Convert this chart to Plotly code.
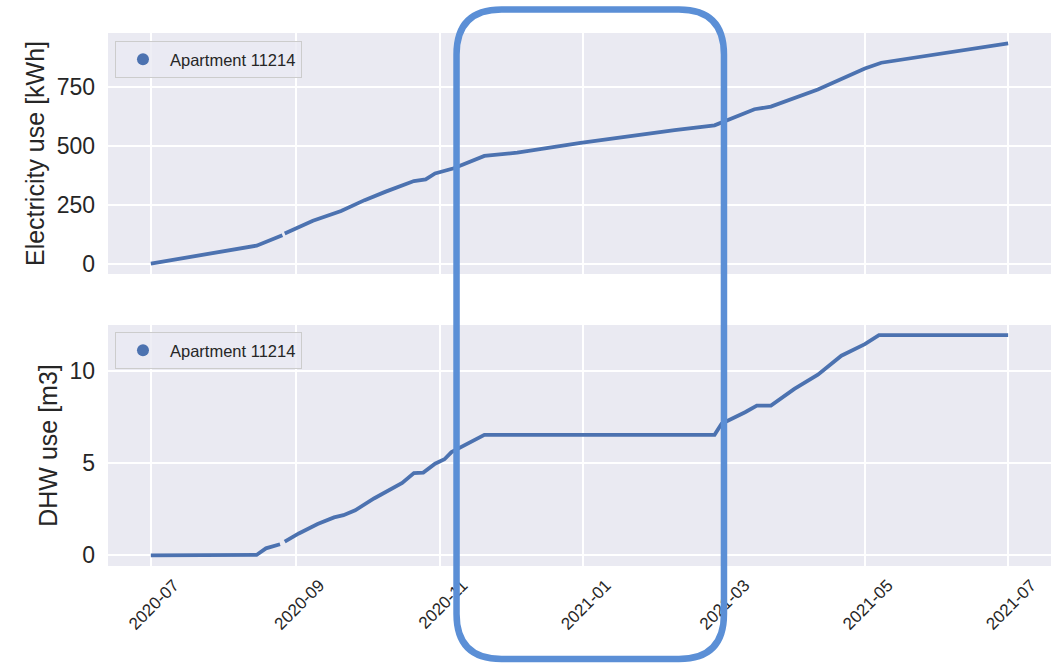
import plotly.graph_objects as go
from plotly.subplots import make_subplots

# Month ticks on the shared time axis
month_ticks = ["2020-07-01", "2020-09-01", "2020-11-01", "2021-01-01",
               "2021-03-01", "2021-05-01", "2021-07-01"]
month_labels = ["2020-07", "2020-09", "2020-11", "2021-01",
                "2021-03", "2021-05", "2021-07"]

series_name = "Apartment 11214"

# Cumulative electricity use (None marks the short data gap)
elec_dates = ["2020-07-01", "2020-08-15", "2020-08-26", "2020-08-26 12:00",
              "2020-08-27", "2020-08-30", "2020-09-08", "2020-09-20",
              "2020-09-30", "2020-10-09", "2020-10-21", "2020-10-26",
              "2020-10-30", "2020-11-07", "2020-11-20", "2020-12-04",
              "2020-12-31", "2021-02-09", "2021-02-26", "2021-03-15",
              "2021-03-22", "2021-04-11", "2021-05-01", "2021-05-08",
              "2021-07-01"]
elec_kwh = [3, 79, 123, None,
            131, 145, 185, 226,
            272, 308, 353, 360,
            385, 407, 459, 473,
            515, 569, 589, 657,
            668, 741, 830, 854,
            936]

# Cumulative domestic hot water use
dhw_dates = ["2020-07-01", "2020-08-15", "2020-08-19", "2020-08-25",
             "2020-08-26 12:00", "2020-08-27", "2020-09-02", "2020-09-10",
             "2020-09-17", "2020-09-21", "2020-09-26", "2020-10-04",
             "2020-10-16", "2020-10-21", "2020-10-25", "2020-10-30",
             "2020-11-03", "2020-11-06", "2020-11-12", "2020-11-20",
             "2021-02-26", "2021-03-01", "2021-03-11", "2021-03-16",
             "2021-03-22", "2021-04-01", "2021-04-11", "2021-04-21",
             "2021-05-01", "2021-05-07", "2021-07-01"]
dhw_m3 = [0.0, 0.02, 0.38, 0.60,
          None, 0.74, 1.19, 1.70,
          2.06, 2.18, 2.45, 3.09,
          3.93, 4.47, 4.50, 4.98,
          5.22, 5.61, 6.03, 6.55,
          6.55, 7.15, 7.78, 8.14,
          8.14, 9.05, 9.82, 10.85,
          11.48, 11.97, 11.97]

LINE = "#4C72B0"
BG = "#EAEAF2"
TXT = "#262626"
FONT = "Liberation Sans, Arial, sans-serif"

fig = make_subplots(rows=2, cols=1, shared_xaxes=True,
                    vertical_spacing=51 / 533)

fig.add_trace(go.Scatter(x=elec_dates, y=elec_kwh, mode="lines",
                         line=dict(color=LINE, width=3.8),
                         showlegend=False, connectgaps=False),
              row=1, col=1)
fig.add_trace(go.Scatter(x=dhw_dates, y=dhw_m3, mode="lines",
                         line=dict(color=LINE, width=3.8),
                         showlegend=False, connectgaps=False),
              row=2, col=1)

# Legend entries drawn as dots, one legend per panel
fig.add_trace(go.Scatter(x=[None], y=[None], mode="markers", name=series_name,
                         marker=dict(color=LINE, size=9), legend="legend"),
              row=1, col=1)
fig.add_trace(go.Scatter(x=[None], y=[None], mode="markers", name=series_name,
                         marker=dict(color=LINE, size=9), legend="legend2"),
              row=2, col=1)

legend_style = dict(
    bgcolor="rgba(234,234,242,0.8)", bordercolor="#cccccc", borderwidth=1,
    font=dict(family=FONT, size=16.5, color=TXT),
    xanchor="left", yanchor="top", itemsizing="constant", itemwidth=44,
)

x_common = dict(
    range=["2020-06-12 18:00", "2021-07-19 06:00"],
    tickvals=month_ticks, ticktext=month_labels,
    showgrid=True, gridcolor="white", gridwidth=1.5,
    zeroline=False, showline=False, ticks="",
    tickfont=dict(family=FONT, size=17, color=TXT),
)
fig.update_xaxes(**x_common)
fig.update_xaxes(showticklabels=False, row=1, col=1)
fig.update_xaxes(tickangle=-45, ticklabelshift=23, ticklabelstandoff=5,
                 row=2, col=1)

y_common = dict(
    showgrid=True, gridcolor="white", gridwidth=1.5,
    zeroline=False, showline=False, ticks="",
    tickfont=dict(family=FONT, size=23, color=TXT),
    ticklabelstandoff=12,
)
fig.update_yaxes(**y_common)
fig.update_yaxes(range=[-41, 980], tickvals=[0, 250, 500, 750],
                 title=dict(text="Electricity use [kWh]", standoff=4,
                            font=dict(family=FONT, size=25, color=TXT)),
                 row=1, col=1)
fig.update_yaxes(range=[-0.58, 12.52], tickvals=[0, 5, 10],
                 title=dict(text="DHW use [m3]", standoff=4,
                            font=dict(family=FONT, size=25, color=TXT)),
                 row=2, col=1)

# Rounded highlight frame around the Nov 2020 - Feb 2021 window
x0, x1 = 0.3696, 0.6532
y0, y1 = -0.1745, 1.0441
rx, ry = 45 / 943, 45 / 533
frame_path = (
    f"M {x0 + rx},{y1} L {x1 - rx},{y1} Q {x1},{y1} {x1},{y1 - ry} "
    f"L {x1},{y0 + ry} Q {x1},{y0} {x1 - rx},{y0} "
    f"L {x0 + rx},{y0} Q {x0},{y0} {x0},{y0 + ry} "
    f"L {x0},{y1 - ry} Q {x0},{y1} {x0 + rx},{y1} Z"
)
fig.add_shape(type="path", path=frame_path, xref="paper", yref="paper",
              line=dict(color="#5B8FD6", width=6.5), fillcolor="rgba(0,0,0,0)",
              layer="above")

fig.update_layout(
    width=1059, height=663,
    margin=dict(l=108, r=8, t=33, b=97),
    paper_bgcolor="white", plot_bgcolor=BG,
    font=dict(family=FONT, color=TXT),
    legend=dict(x=0.0074, y=0.985, **legend_style),
    legend2=dict(x=0.0074, y=0.439, **legend_style),
)

fig.write_html("out.html")
